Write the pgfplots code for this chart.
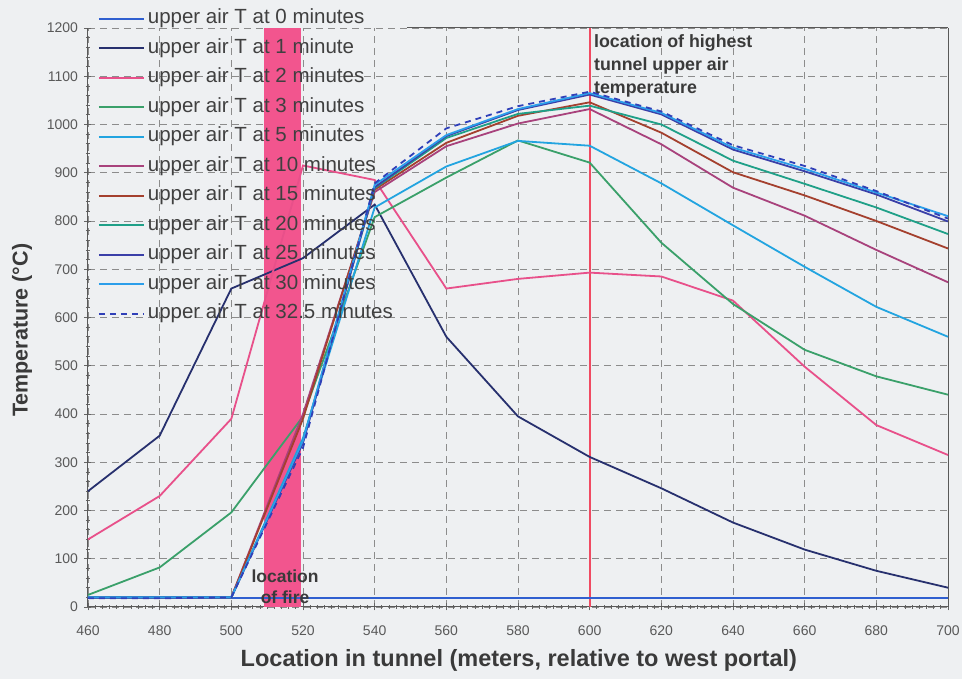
\documentclass[border=0pt]{standalone}
\usepackage{fontspec}
\setmainfont{Liberation Sans}
\usepackage{pgfplots}
\usepackage{pgfplotstable}
\pgfplotsset{compat=1.18}

\definecolor{bgcol}{HTML}{EEF0F2}
\definecolor{firecol}{HTML}{F2558E}
\definecolor{peakcol}{HTML}{F04A62}
\definecolor{txtcol}{HTML}{3A3A3A}
\definecolor{c0}{HTML}{2F5FD0}
\definecolor{c1}{HTML}{27306E}
\definecolor{c2}{HTML}{E8508A}
\definecolor{c3}{HTML}{3AA06A}
\definecolor{c5}{HTML}{22A4E0}
\definecolor{c10}{HTML}{A8427C}
\definecolor{c15}{HTML}{A4402E}
\definecolor{c20}{HTML}{1FA088}
\definecolor{c25}{HTML}{3A3FA8}
\definecolor{c30}{HTML}{2B9EEA}
\definecolor{c325}{HTML}{3040B8}

% upper air temperature (deg C) by location and time
\pgfplotstableread{
x   t0  t1   t2   t3   t5   t10  t15  t20  t25  t30  t325
460 18  240  140  25   20   20   20   20   20   20   18
480 18  355  230  82   20   20   20   20   20   20   18
500 18  660  390  196  20   20   20   20   20   20   20
520 18  723  915  395  350  400  390  345  340  345  330
540 18  834  885  808  828  860  865  868  870  875  878
560 18  560  660  890  913  955  962  972  976  978  992
580 18  395  680  967  966  1002 1018 1022 1030 1032 1038
600 18  311  693  921  956  1032 1046 1039 1062 1065 1068
620 18  246  685  755  878  959  983  1000 1021 1024 1027
640 18  175  635  628  791  869  901  925  948  952  957
660 18  119  498  533  705  811  853  877  903  908  914
680 18  75   377  478  622  740  800  828  855  859  862
700 18  40   315  440  560  673  743  773  799  810  805
}\temps

\begin{document}
\begin{tikzpicture}
\fill[bgcol] (-88pt,-72pt) rectangle (874pt,607pt);
\path[use as bounding box] (-88pt,-72pt) rectangle (874pt,607pt);
\begin{axis}[
    at={(0pt,0pt)}, anchor=south west,
    scale only axis,
    width=860pt, height=579pt,
    xmin=460, xmax=700,
    ymin=0, ymax=1200,
    clip=false,
    axis x line*=bottom,
    axis y line*=left,
    axis line style={-, draw=black!65, line width=1pt},
    xtick={460,480,...,700},
    ytick={0,100,...,1200},
    minor x tick num=9,
    minor y tick num=4,
    tick align=center,
    major tick length=7pt,
    minor tick length=4pt,
    tick style={black!60, line width=0.7pt},
    grid=major,
    major grid style={black!45, line width=0.8pt, dash pattern=on 7pt off 5pt},
    /pgf/number format/assume math mode=true,
    /pgf/number format/1000 sep={},
    ticklabel style={font=\fontsize{14}{16}\selectfont, text=black!65},
    xticklabel shift=12pt,
    yticklabel shift=3pt,
    xlabel={Location in tunnel (meters, relative to west portal)},
    ylabel={Temperature (°C)},
    xlabel style={font=\bfseries\fontsize{23.5}{26}\selectfont, text=txtcol,
        at={(axis description cs:0.501,0)}, anchor=center, yshift=-53pt},
    ylabel style={font=\bfseries\fontsize{21.5}{24}\selectfont, text=txtcol,
        at={(axis description cs:0,0.478)}, anchor=center, yshift=66pt},
    legend cell align=left,
    legend style={draw=none, fill=none, at={(0.008,1.036)}, anchor=north west,
        font=\fontsize{20.5}{23}\selectfont, text=black!75,
        nodes={inner sep=0pt, text height=14.5pt, text depth=4.5pt},
        row sep=10.5pt, column sep=3pt},
    legend image code/.code={\draw[#1] (0pt,0pt) -- (45pt,0pt);},
    every axis plot/.append style={line width=1.8pt},
]
% fire location band and peak marker
\fill[firecol] (axis cs:509,0) rectangle (axis cs:519.5,1200);
\draw[peakcol, line width=2pt] (axis cs:600,0) -- (axis cs:600,1200);
% right border and visible part of top border
\draw[black!65, line width=1pt] (axis cs:700,0) -- (axis cs:700,1200);
\draw[black!65, line width=1pt] (axis cs:549,1200) -- (axis cs:700,1200);

\addplot[c0] table[x=x, y=t0] {\temps};
\addlegendentry{upper air T at 0 minutes}
\addplot[c1] table[x=x, y=t1] {\temps};
\addlegendentry{upper air T at 1 minute}
\addplot[c2] table[x=x, y=t2] {\temps};
\addlegendentry{upper air T at 2 minutes}
\addplot[c3] table[x=x, y=t3] {\temps};
\addlegendentry{upper air T at 3 minutes}
\addplot[c5] table[x=x, y=t5] {\temps};
\addlegendentry{upper air T at 5 minutes}
\addplot[c10] table[x=x, y=t10] {\temps};
\addlegendentry{upper air T at 10 minutes}
\addplot[c15] table[x=x, y=t15] {\temps};
\addlegendentry{upper air T at 15 minutes}
\addplot[c20] table[x=x, y=t20] {\temps};
\addlegendentry{upper air T at 20 minutes}
\addplot[c25] table[x=x, y=t25] {\temps};
\addlegendentry{upper air T at 25 minutes}
\addplot[c30] table[x=x, y=t30] {\temps};
\addlegendentry{upper air T at 30 minutes}
\addplot[c325, dash pattern=on 6pt off 5pt] table[x=x, y=t325] {\temps};
\addlegendentry{upper air T at 32.5 minutes}

\node[anchor=north west, align=left, inner sep=0pt, text=txtcol,
      font=\bfseries\fontsize{17.8}{23}\selectfont] at (axis cs:601.2,1186)
      {location of highest\\tunnel upper air\\temperature};
\node[anchor=north, align=center, inner sep=0pt, text=txtcol,
      font=\bfseries\fontsize{17.5}{21}\selectfont] at (axis cs:515,78)
      {location\\of fire};
\end{axis}
\end{tikzpicture}
\end{document}
